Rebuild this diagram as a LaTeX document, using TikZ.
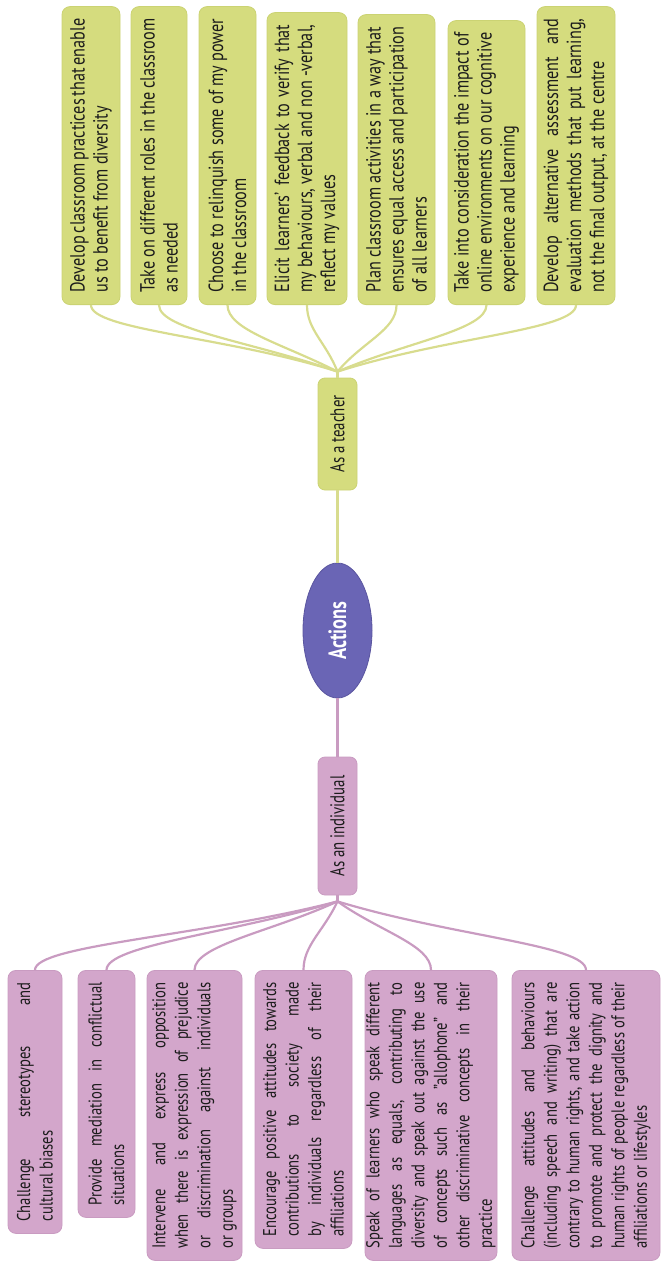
\documentclass[tikz,border=0pt]{standalone}
\usepackage{fontspec}
\setmainfont{PT Sans}[FakeStretch=0.74]
\newfontfamily\leaffont{PT Sans}[FakeStretch=0.79]
\usepackage{tikz}
\usetikzlibrary{shapes.geometric, positioning}
\hyphenpenalty=10000
\exhyphenpenalty=10000
\definecolor{teachfill}{HTML}{D5DC7E}
\definecolor{teachline}{HTML}{CBD373}
\definecolor{teachlink}{HTML}{D8DC8E}
\definecolor{indfill}{HTML}{D3A6CB}
\definecolor{indline}{HTML}{C99BC1}
\definecolor{indlink}{HTML}{C99BC1}
\definecolor{hubfill}{HTML}{6A65B5}
\definecolor{hubline}{HTML}{5A559F}
\definecolor{ink}{HTML}{1C1C1C}
\tikzset{
  tleaf/.style={
    rotate=90, rounded corners=8pt, fill=teachfill, draw=teachline,
    line width=0.8pt, text=ink, align=justify, inner xsep=12pt,
    font=\leaffont\fontsize{20.5}{23}\selectfont
  },
  ileaf/.style={
    rotate=90, rounded corners=8pt, fill=indfill, draw=indline,
    line width=0.8pt, text=ink, align=justify, inner xsep=12pt, inner ysep=1pt,
    font=\leaffont\fontsize{18.5}{22.5}\selectfont
  },
  midbox/.style={
    rotate=90, rounded corners=7pt, line width=0.8pt, text=ink,
    minimum width=#1, minimum height=39pt, inner sep=2pt,
    font=\fontsize{20}{23}\selectfont
  },
  hub/.style={
    ellipse, rotate=90, fill=hubfill, draw=hubline, line width=0.8pt,
    minimum width=135pt, minimum height=69pt, inner sep=0pt,
    text=white, font=\fontsize{25}{30}\selectfont\bfseries
  },
  tlink/.style={draw=teachlink, line width=2.2pt},
  ilink/.style={draw=indlink, line width=2.2pt}
}
\begin{document}
\begin{tikzpicture}[x=1pt, y=-1pt]
    \useasboundingbox (0,0) rectangle (664,1263);

    % Centre and the two branches
    \node[hub] (act) at (337.5,630.5) {Actions};
    \node[midbox=112pt, fill=teachfill, draw=teachline] (teach) at (337.5,434) {As a teacher};
    \node[midbox=138pt, fill=indfill, draw=indline] (ind) at (337.5,826) {As an individual};

    \draw[tlink] (teach.west) -- (act.east);
    \draw[ilink] (act.west) -- (ind.east);

    % Teacher items
    \node[tleaf, anchor=west, text width=274pt, minimum height=58pt] (tA) at (91,305)
      {Develop classroom practices that enable\linebreak us to benefit from diversity};
    \node[tleaf, anchor=west, text width=274pt, minimum height=56pt] (tB) at (159,305)
      {Take on different roles in the classroom\linebreak as needed};
    \node[tleaf, anchor=west, text width=274pt, minimum height=57pt] (tC) at (227.5,305)
      {Choose to relinquish some of my power\linebreak in the classroom};
    \node[tleaf, anchor=west, text width=268pt, minimum height=80pt] (tD) at (307,305)
      {Elicit learners’ feedback to verify that\linebreak my behaviours, verbal and non -verbal,\linebreak reflect my values};
    \node[tleaf, anchor=west, text width=266pt, minimum height=77pt] (tE) at (396.5,305)
      {Plan classroom activities in a way that\linebreak ensures equal access and participation\linebreak of all learners};
    \node[tleaf, anchor=west, text width=260pt, minimum height=77pt] (tF) at (486.5,305)
      {Take into consideration the impact of\linebreak online environments on our cognitive\linebreak experience and learning};
    \node[tleaf, anchor=west, text width=274pt, minimum height=78pt] (tG) at (576,305)
      {Develop alternative assessment and\linebreak evaluation methods that put learning,\linebreak not the final output, at the centre};

    % Individual items
    \node[ileaf, anchor=east, text width=239pt, minimum height=54pt] (iA) at (35,970)
      {Challenge stereotypes and\linebreak cultural biases};
    \node[ileaf, anchor=east, text width=223pt, minimum height=57pt] (iB) at (106.5,970)
      {Provide mediation in conflictual\linebreak situations};
    \node[ileaf, anchor=east, text width=266pt, minimum height=95pt] (iC) at (194.5,970)
      {Intervene and express opposition\linebreak when there is expression of prejudice\linebreak or discrimination against individuals\linebreak or groups};
    \node[ileaf, anchor=east, text width=254pt, minimum height=97pt] (iD) at (303.5,970)
      {Encourage positive attitudes towards\linebreak contributions to society made\linebreak by individuals regardless of their\linebreak affiliations};
    \node[ileaf, anchor=east, text width=266pt, minimum height=132pt] (iE) at (431,970)
      {Speak of learners who speak different\linebreak languages as equals, contributing to\linebreak diversity and speak out against the use\linebreak of concepts such as ”allophone” and\linebreak other discriminative concepts in their\linebreak practice};
    \node[ileaf, anchor=east, text width=266pt, minimum height=148pt] (iF) at (586,970)
      {Challenge attitudes and behaviours\linebreak (including speech and writing) that are\linebreak contrary to human rights, and take action\linebreak to promote and protect the dignity and\linebreak human rights of people regardless of their\linebreak affiliations or lifestyles};

    % Fan-out above the teacher box
    \path (teach.east) ++(0,-6) coordinate (tfork);
    \draw[tlink] (teach.east) -- (tfork);
    \draw[tlink] (tA.west) .. controls +(0,25) and +(-110,-35) .. (tfork);
    \draw[tlink] (tB.west) .. controls +(0,25) and +(-85,-30) .. (tfork);
    \draw[tlink] (tC.west) .. controls +(0,25) and +(-55,-28) .. (tfork);
    \draw[tlink] (tD.west) .. controls +(0,25) and +(-12,-30) .. (tfork);
    \draw[tlink] (tE.west) .. controls +(0,25) and +(25,-30) .. (tfork);
    \draw[tlink] (tF.west) .. controls +(0,25) and +(70,-30) .. (tfork);
    \draw[tlink] (tG.west) .. controls +(0,25) and +(110,-35) .. (tfork);

    % Fan-out below the individual box
    \path (ind.west) ++(0,6) coordinate (ifork);
    \draw[ilink] (ind.west) -- (ifork);
    \draw[ilink] (iA.east) .. controls +(0,-25) and +(-135,35) .. (ifork);
    \draw[ilink] (iB.east) .. controls +(0,-25) and +(-105,32) .. (ifork);
    \draw[ilink] (iC.east) .. controls +(0,-25) and +(-65,30) .. (ifork);
    \draw[ilink] (iD.east) .. controls +(0,-25) and +(-14,30) .. (ifork);
    \draw[ilink] (iE.east) .. controls +(0,-25) and +(42,30) .. (ifork);
    \draw[ilink] (iF.east) .. controls +(0,-25) and +(115,35) .. (ifork);
  \end{tikzpicture}
\end{document}
